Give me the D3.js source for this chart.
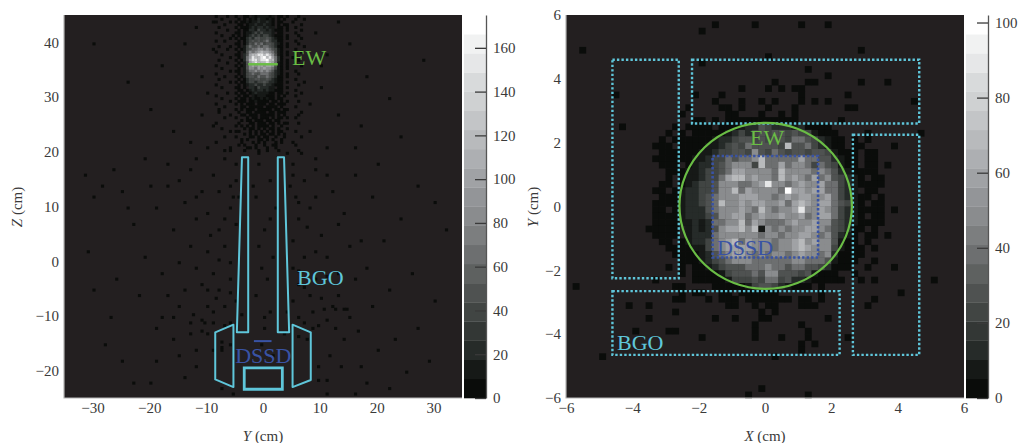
<!DOCTYPE html>
<html><head><meta charset="utf-8">
<script src="https://cdn.jsdelivr.net/npm/d3@7"></script>
<style>
html,body{margin:0;padding:0;background:#fff}
svg{display:block}
text{font-family:"Liberation Serif",serif;fill:#3a3a3a}
</style></head><body>
<svg id="c" width="1018" height="443"></svg>
<script>
// Gray ramp of the colour bars, bottom to top
const grays=['#0a0c0a','#161917','#262b29','#333735','#414543','#4f5251','#5e6160','#6d6f70','#7c7e7f','#8a8c8e','#939598','#a0a2a5','#adafb2','#b8babc','#c3c5c7','#cfd1d2','#d8dadb','#e6e7e8','#f1f2f2','#ffffff'];
const leftTicksX=[-30,-20,-10,0,10,20,30], leftTicksY=[-20,-10,0,10,20,30,40];
const rightTicks=[-6,-4,-2,0,2,4,6];
const leftBarTicks=[0,20,40,60,80,100,120,140,160], rightBarTicks=[0,20,40,60,80,100];
// Count fraction (of the top of the bar) read for each shade level 0..a
const levelShare=[.02,.08,.14,.21,.29,.37,.46,.56,.70,.85,.99];

// Left panel, hot region: rows from the top, bins 52..85, shade level per bin
const leftRows=[
".0...0.. 0..00.1011 1101.00.0. ..0...",
"...0.... .0.0.01021 1010.0.0.. .0..0.",
".0....0. 0.00101121 1210.00... 0.....",
"....0... .00.011211 2110.0.00. ...0..",
"..0..... 0.00012122 1211.00.0. .0....",
".....0.. .0.0022132 2121000.0. ...0..",
".0...... 00.0112323 2221.00... .0....",
"...0...0 .0.0123232 3321000.0. ..0...",
"......0. 0.00232443 3432100.0. ...0..",
".0..0... .0.0234343 4532200... .0....",
"........ 00.0243545 3443210.0. ..0...",
"..0...0. .0.1354454 5543200.0. ....0.",
".....0.. 0.01345566 5654310... .0....",
".0...... .0.1465678 7765310.0. ...0..",
"...0.... 00.2478899 8986410.0. .0....",
"......0. .0.2579889 a897520... 0.....",
"..0..... 0.02589989 9a88520.0. ..0...",
".....0.. .0.1478988 8987510.0. .0....",
".0...... 0.01467677 6776410.0. ...0..",
"...0.... .0.1466576 7665310.0. ......",
"......0. 00.1355656 5654210... .0....",
".0...... .0.1345445 5543210.0. ..0...",
"....0... 0.01344354 4543200.0. ......",
"..0..... .0.0233443 3432100... .0....",
"......0. 0.00233233 4322100.0. ....0.",
".0...... .0.0122322 3221000... ..0...",
"...0.... 00.0.22132 2211.00.0. ......",
"........ .00.012122 1211000... .0....",
".....0.. 0.00.01211 1100.00.0. ...0..",
".0...... .0.00.1011 1000.0.0.. .0....",
"...0.... 0.00.01001 0100.00... ......",
"......0. .000.00100 00.00.0.0. ..0...",
".0...... 0.0.000.00 0.00.000.. ......",
"....0... ..00.00000 .0000.0... .0....",
"........ 0.0.000.00 000.00.00. ......",
"..0..... .0..00.000 0.00.000.. ...0..",
"......0. ..00.000.0 0000.0.0.. ......",
"....0... 0...0.00.0 00.0.00.0. .0....",
"........ ..0.00.000 .00.00.... ......",
".0...... .0...00.00 0.00.0.00. ..0...",
"........ 0.0.0.0.00 00.0..0... ......",
"...0.... ...0.00.0. 0.00.0..0. ......",
"......0. .0...0.0.0 .0.0.00... .0....",
"........ ...0.0.0.0 0..0.0.0.. ......",
"....0... 0....0..0. 00..0..... ...0..",
"........ ..0.0...00 .0.0..0... ......",
".0...... ......0.0. 0...0.0... ......",
"........ .0.0...0.. 0..0...... .0....",
"......0. .....0.0.. .0..0..... ......",
"....0... ...0....0. .0...0.... ..0..."
];
// Left panel, single low-count bins elsewhere: [Y, Z] in cm
const leftScatter=[
[-8.5,-6.5],[-10,-8],[-7,-8],[-12.5,-9.5],[-11,-10.5],[-9,-11],[-6,-11],[-11,-12.5],[-10,-13],[-7.5,-14.5],[-7.5,-15.5],[-7.5,-16],[-6,-15],[-12,-16],[-9,-16],[-7.5,-23],[-5.5,-24],
[5,-7],[8.5,-9],[10.5,-8.5],[12,-8],[12.5,-8.5],[14,-8.5],[14.5,-8.5],[15,-10],[11,-10.5],[16.5,-12.5],[3.5,-13],[6,-13.5],[7.5,-14],[8.5,-12],[11.5,-17],[13.5,-19],[9.5,-19],[9.5,-21.5],[11,-21.5],
[-31.5,16],[-28.5,14],[-26.5,17],[-30,12],[-24,10],[-20,14],[-17,18],[-15,15],[-19,10],[-23,7],[-13,17],[-11,13],[-14,11],[-9,16],[-12,8],[-16,6],[-10,9],[-8,13],[-7,19],[-6,10],[-8,6],[-5,15],[-4.5,12],[-13,3],[-10,2],[-7,3],[-5,7],[-6,0],[-9,-2],[-12,-1],[-15,0],[-18,-2],[-31,2],[-26,-3],[-21,1],[-22,-6],[-17,-6],[-14,-5],[-11,-4],[-8,-5],[-6,-3],[-5,-7],
[-28,-15],[-25,-18],[-20,-22],[-23,-22],[-27,-10],[-19,-12],[-15,-17],[-14,-21],[-12,-19],[-16,-10],[-13,-13],[-30,-5],
[-1,18],[1,15],[-1.5,12],[2,10],[0,6],[-1,3],[1.5,1],[0.5,-3],[-1.5,-6],[1,-9],[0,-12],[-2,14],[1,8],[-0.5,-1],
[5,18],[7,15],[5.5,12],[9,17],[6,8],[8,10],[5,4],[7,1],[10,5],[12,13],[14,9],[16,16],[19,12],[11,1],[13,-2],[9,-3],[6,-4],[5,-1],[8,-6],[15,3],[18,-1],[21,4],[24,8],[27,14],[30,11],[32,6],[26,-2],[22,-5],[19,-8],[30,-7],[27,-12],[23,-14],[20,-16],[17,-19],[25,-20],[29,-18],[14,-14],[18,-22],[22,-23],[16,-24],[11,-24],
[-9,25],[-7,23],[-11,27],[-13,22],[-5,24],[5,22],[8,24],[11,21],[13,27],[6,27],[-16,24],[-20,28],[17,25],[22,30],[-24,33],[-30,40],[28,37],[15,40],[-14,40],[-18,36],[18,34],[-11,34],[11,38],[-12,43],[13,44],
[-1,20],[0.5,20.5],[-3,21],[2,21.5],[-0.5,22.5],[1,23.5],[-2,23],[3.5,23],[-4,22],[-6,20.5],[4,20],[6.5,20],[-5,18],[5,16],[-6,14],[4.5,14],[6,11],[-5.5,12],[7.5,6.5],[-7,8],[-9.5,5],[9,2],[-8,0.5],[6,-1.5],[-6,-5.5],[7,-4.5],[-10,-5],[10,-6.5],[4,-9],[-4,-9.5],[0,-10],[-0.5,-15],[1.5,-17],[-7,-11.5],[-9,-9],[-10.5,-11],[6,-10],[7,-11],[9.5,-11.5],[12.5,-12],[-13,-11],[-15,-8],[-18,-10],[-16,-14],[-19,-18],[13,-6],[16,-3],[11,-2.5],[17,4],[13,7],[9,12],[11,16],[-12,12],[-17,14],[-21,19],[-25,13],[16,21],[20,18],[24,23],[-12,19],[-10,21],[9,19],[-8,28],[8,29],[-10,31],[10,32],[-9,39],[9,42],[-9,44],[10,36]
];

// Right panel: 60 rows x 60 bins, shade level per bin ('.' empty)
const rightRows=[
".......... .......... .......... .......... .......... ..........",
".......... .......... ..0.....0. .....0...0 .......... ..........",
".......... .......... 0......... .......... .......... ..........",
".......... .......... .......... .......... .......... ..........",
".......... .......... .......... .......... .......... ..........",
"..0....... .......... .......... .......... ....0..... ..........",
".......... .......... .......... 0......... .......... ..........",
".......... .......... 0......... .......... .......... ..........",
".......... .......... .......... ......0... .......... ..........",
".......... .......... .......... .........0 .......... ..........",
".......... .......... .......... .0....00.. ....0...0. ..........",
".......... .......... ......0... 0.0.00.... .......... ..........",
".......0.. .........0 ...0...... .....0.... ..0....... ..........",
".......... .......... ..0...0..0 .0...0.0.0 .......... ..0.......",
".......... ........0. ...00.0... 0...0..... ..00...... ..........",
".......... .......0.. ....00...0 ..0.0..... .......... ..........",
".......... .........0 0.0.000000 00000..... .0........ ..........",
"........0. ......0.00 00.0001224 3222120000 .......... ..........",
".......... .....0.0.0 0000123234 3443433100 0....0.... ...0......",
".......... ....0.0000 0012234434 3443554321 00.0.0.... ..........",
".......... ...000.000 0112343544 4438445321 00.00....0 ..........",
".......... ....000000 1123344364 3543443443 1000.00... ..........",
".......... ...0000001 1233545568 5555575544 2100.00... ..........",
".......... ....000.01 2234566638 5575665354 3100.00.0. ..........",
".......... .....00011 2334577666 6586666565 4210000... ..........",
".......... .....0.011 2335788676 6586765756 43210.00.. ..........",
".......... ....00.012 3346665567 9665676675 53210000.. ..........",
".......... ...00.0122 3346685766 665a776775 5321.00... ..........",
".......... ....000122 3456667776 6567677667 532100.0.. ..........",
".......... ...0000122 3458667677 6675787677 54310.00.. ..........",
".......... ...00.0122 2456667658 6566796676 53210000.0 ..........",
".......... ...0000122 2346677567 6676675677 53210.00.. ..........",
".......... ...0000112 1255668576 5556766766 43210000.. ..........",
".......... ..00000.12 1246778681 6565667765 43200.0... ..........",
".......... ...0000.12 2256666665 6656677656 4210.00.0. ..........",
".......... ....00.012 2356785766 6566786766 4100.0.... ..........",
".......... .....00001 1356777766 6566787666 31000.0... ..........",
".......... ......0000 1245677656 5665676656 20000..... ..........",
".......... .......000 1234566655 5555665554 1000..0... ..........",
".......... .....0.0.0 0123444555 6554554432 000..0...0 ..........",
".......... .......0.0 0001344454 6644434100 0..0...... ..........",
".......... ...0.....0 0000133343 5534221000 00..0.0... .....0....",
".0........ ......00.. ..00000134 4321000.0. .......... ..........",
".......... .......0.0 0..00.0000 00......0. .......... 0.........",
".......... ......00.. .0.000.000 0000.00.0. ......0... ..........",
".........0 ..0....... ....00..0. 00...000.. .....0.... ..........",
".......... ......0... .........0 .0........ .......... ..........",
".......... ..0....... ..0..0...0 0........0 .......... ..........",
".......... .......... ........0. .....0.... .......... ..........",
".......... 0....00... ........0. ......0... .......... ..........",
".......... .......... 0.......0. ..0...0... ..0....... ..........",
".......... .......... .......... .....0.0.. .......... ..........",
".......... .......... .......... .....0.... .......... ..........",
".....0.... .......... .......... .0........ .......... ..........",
".......... .......... .......... .......... .......... ..........",
".......... .......... .......... .......... .......... ..........",
".......... .......... .......... .......... .......... ..........",
".......... .......... .......... .......... .......... ..........",
".......... .......... .........0 .......... .......... ..........",
".......... .......... .......0.. ......0... .......... .........."
];

// Detector outlines, in cm
const leftBgo=[
 [[-3.7,19],[-2.6,19],[-2.6,-13],[-4.6,-13]],
 [[3.7,19],[2.6,19],[2.6,-13],[4.6,-13]],
 [[-8.4,-13],[-5.2,-11.6],[-5.2,-23],[-8.4,-21.6]],
 [[8.4,-13],[5.2,-11.6],[5.2,-23],[8.4,-21.7]]
];
const leftBox=[[-3.3,-19.5],[3.4,-19.5],[3.4,-23.4],[-3.3,-23.4]];
const leftEw=[[-2.6,36.0],[2.6,36.0]], leftDssd=[[-1.6,-14.6],[1.5,-14.6]];
const rightBgo=[
 [[-4.6,4.6],[-2.6,4.6],[-2.6,-2.25],[-4.6,-2.25]],
 [[-2.2,4.6],[4.65,4.6],[4.65,2.6],[-2.2,2.6]],
 [[2.65,2.25],[4.65,2.25],[4.65,-4.65],[2.65,-4.65]],
 [[-4.6,-2.65],[2.25,-2.65],[2.25,-4.65],[-4.6,-4.65]]
];
const rightDssd=[[-1.58,1.58],[1.6,1.58],[1.6,-1.6],[-1.58,-1.6]];
const rightEw={cx:0.02,cy:0.02,r:2.6};
const labels={ew:'EW',bgo:'BGO',dssd:'DSSD'};

const svg=d3.select('#c');
const BG='#231f20',GREEN='#6abd45',CYAN='#5fc6da',BLUE='#3953a4';
const parse=s=>s.replace(/ /g,'');

function panel(o){
  const x=d3.scaleLinear().domain(o.xd).range([o.x0,o.x1]);
  const y=d3.scaleLinear().domain(o.yd).range([398,15]);
  const color=d3.scaleQuantize().domain(o.zd).range(grays);
  const g=svg.append('g');
  g.append('rect').attr('x',o.x0).attr('y',15).attr('width',o.x1-o.x0).attr('height',383).attr('fill',BG);
  const cw=x(o.xd[0]+o.bw)-x(o.xd[0]), ch=y(o.yd[1]-o.bh)-y(o.yd[1]);
  g.append('g').selectAll('rect').data(o.cells).join('rect')
   .attr('x',d=>x(d.a)).attr('y',d=>y(d.b))
   .attr('width',cw+.3).attr('height',ch+.3)
   .attr('fill',d=>color(d.v));
  g.append('path').attr('d',`M${o.x0},15V398H${o.x1}`).attr('fill','none').attr('stroke','#b5b5b5').attr('stroke-width',1.2);
  const ax=g.append('g').attr('transform','translate(0,398)').call(d3.axisBottom(x).tickValues(o.tx).tickSize(0).tickPadding(4));
  const ay=g.append('g').attr('transform',`translate(${o.x0},0)`).call(d3.axisLeft(y).tickValues(o.ty).tickSize(0).tickPadding(5));
  [ax,ay].forEach(a=>{a.select('.domain').remove();a.selectAll('text').attr('font-size',15).attr('font-family','Liberation Serif').attr('fill','#3a3a3a');});
  const by=d3.scaleLinear().domain(o.zd).range([398,15]);
  const bx=o.x1+2, bw=22;
  const stepH=(o.zd[1]-o.zd[0])/grays.length;
  g.append('g').selectAll('rect').data(grays).join('rect')
   .attr('x',bx).attr('width',bw)
   .attr('y',(d,i)=>by(o.zd[0]+(i+1)*stepH))
   .attr('height',(d,i)=>by(o.zd[0]+i*stepH)-by(o.zd[0]+(i+1)*stepH)+.3)
   .attr('fill',d=>d);
  const ac=g.append('g').attr('transform',`translate(${bx+bw},0)`)
   .call(d3.axisRight(by).tickValues(o.tb).tickSizeInner(-11).tickSizeOuter(0).tickPadding(7));
  ac.selectAll('text').attr('font-size',15).attr('font-family','Liberation Serif').attr('fill','#3a3a3a');
  ac.selectAll('line').attr('stroke','#3a3a3a').attr('stroke-width',1.3);
  ac.select('.domain').attr('stroke','#555').attr('stroke-width',1.3);
  const xl=g.append('text').attr('x',(o.x0+o.x1)/2).attr('y',441).attr('text-anchor','middle').attr('font-size',15);
  xl.append('tspan').attr('font-style','italic').text(o.xl); xl.append('tspan').text(' (cm)');
  const yl=g.append('text').attr('transform',`translate(${o.ylx},207) rotate(-90)`).attr('text-anchor','middle').attr('font-size',15);
  yl.append('tspan').attr('font-style','italic').text(o.yl); yl.append('tspan').text(' (cm)');
  return {x,y,g};
}

const LMAX=175,RMAX=102;
const leftCells=[];
leftRows.forEach((s,r)=>{[...parse(s)].forEach((ch,i)=>{ if(ch!=='.') leftCells.push({a:-35+(52+i)*.5,b:45-r*.5,v:levelShare[parseInt(ch,11)]*LMAX}); });});
const seen=new Set(leftCells.map(d=>d.a+'|'+d.b));
leftScatter.forEach(([Y,Z])=>{
  const a=Math.floor(Y*2)/2,b=Math.ceil(Z*2)/2;
  if(!seen.has(a+'|'+b)) leftCells.push({a,b,v:levelShare[0]*LMAX});
});
const rightCells=[];
rightRows.forEach((s,r)=>{[...parse(s)].forEach((ch,i)=>{ if(ch!=='.') rightCells.push({a:-6+i*.2,b:6-r*.2,v:levelShare[parseInt(ch,11)]*RMAX}); });});

const L=panel({xd:[-35,35],yd:[-25,45],zd:[0,LMAX],x0:64,x1:462,bw:.5,bh:.5,cells:leftCells,tx:leftTicksX,ty:leftTicksY,tb:leftBarTicks,xl:'Y',yl:'Z',ylx:22});
const R=panel({xd:[-6,6],yd:[-6,6],zd:[0,RMAX],x0:566,x1:964,bw:.2,bh:.2,cells:rightCells,tx:rightTicks,ty:rightTicks,tb:rightBarTicks,xl:'X',yl:'Y',ylx:538});

const line=(p)=>d3.line().x(d=>p.x(d[0])).y(d=>p.y(d[1]));
L.g.append('g').selectAll('path').data(leftBgo).join('path')
 .attr('d',d=>line(L)(d)+'Z').attr('fill','none').attr('stroke',CYAN).attr('stroke-width',2).attr('stroke-linejoin','round');
L.g.append('path').attr('d',line(L)(leftBox)+'Z').attr('fill','none').attr('stroke',CYAN).attr('stroke-width',2.8);
L.g.append('path').attr('d',line(L)(leftEw)).attr('stroke',GREEN).attr('stroke-width',2.4);
L.g.append('path').attr('d',line(L)(leftDssd)).attr('stroke',BLUE).attr('stroke-width',2);
const note=(p,t,a,b,c)=>p.g.append('text').attr('x',p.x(a)).attr('y',p.y(b)).attr('font-size',22).style('fill',c).text(t);
note(L,labels.ew,5.1,35.8,GREEN);
note(L,labels.bgo,6,-4.4,CYAN);
note(L,labels.dssd,-4.9,-18.6,BLUE);
R.g.append('g').selectAll('path').data(rightBgo).join('path')
 .attr('d',d=>line(R)(d)+'Z').attr('fill','none').attr('stroke',CYAN).attr('stroke-width',2.4).attr('stroke-dasharray','2.4 2.1');
R.g.append('path').attr('d',line(R)(rightDssd)+'Z').attr('fill','none').attr('stroke',BLUE).attr('stroke-width',2.6).attr('stroke-dasharray','2.4 2.1');
R.g.append('ellipse').attr('cx',R.x(rightEw.cx)).attr('cy',R.y(rightEw.cy))
 .attr('rx',R.x(rightEw.r)-R.x(0)).attr('ry',R.y(0)-R.y(rightEw.r))
 .attr('fill','none').attr('stroke',GREEN).attr('stroke-width',2.2);
note(R,labels.ew,-.45,1.92,GREEN);
note(R,labels.dssd,-1.45,-1.52,BLUE);
note(R,labels.bgo,-4.46,-4.5,CYAN);
</script>
</body></html>
